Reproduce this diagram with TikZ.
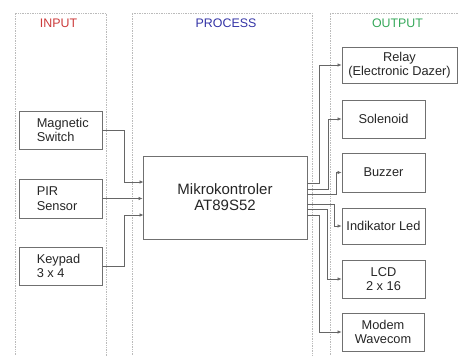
\documentclass[tikz,border=0pt]{standalone}
\usepackage{fontspec}
\setmainfont{Liberation Sans}
\usetikzlibrary{arrows.meta}
\definecolor{inred}{HTML}{CC3B3B}
\definecolor{prblue}{HTML}{3434A6}
\definecolor{outgreen}{HTML}{36A85A}
\definecolor{boxgray}{HTML}{707070}
\definecolor{dotgray}{HTML}{BBBBBB}
\tikzset{
  panel/.style={draw=dotgray, densely dotted, line width=0.7pt},
  title/.style={font=\fontsize{12.4}{14}\selectfont, inner sep=0pt},
  blk/.style={draw=boxgray, line width=0.8pt, fill=white, inner sep=0pt, align=center,
              font=\fontsize{12.8}{14.5}\selectfont, text=black!85},
  btxt/.style={inner sep=0pt, align=left, anchor=west, font=\fontsize{12.8}{14.5}\selectfont, text=black!85},
  conn/.style={draw=black!60, line width=0.7pt},
  arr/.style={conn, -{Latex[length=4pt,width=3.5pt]}}
}
\begin{document}
\begin{tikzpicture}[x=1pt,y=-1pt]
\useasboundingbox (0,0) rectangle (459,356);
% panels
\draw[panel] (15,360) -- (15,13) -- (106,13) -- (106,360);
\draw[panel] (132,360) -- (132,13) -- (312,13) -- (312,360);
\draw[panel] (330,360) -- (330,13) -- (462,13);
\node[title, text=inred] (tin) at (58.5,23) {INPUT};
\node[title, text=prblue] (tpr) at (226,23) {PROCESS};
\node[title, text=outgreen] (tout) at (397.5,23) {OUTPUT};
% input blocks
\node[blk, minimum width=83pt, minimum height=38pt] (ms) at (60.5,130) {};
\node[btxt] (mst) at ([xshift=18pt]ms.west) {Magnetic\\Switch};
\node[blk, minimum width=83pt, minimum height=39pt] (pir) at (60.5,198.5) {};
\node[btxt] (pirt) at ([xshift=18pt]pir.west) {PIR\\Sensor};
\node[blk, minimum width=83pt, minimum height=38pt] (kp) at (60.5,266) {};
\node[btxt] (kpt) at ([xshift=18pt]kp.west) {Keypad\\3 x 4};
% mcu
\node[blk, minimum width=164pt, minimum height=83pt, font=\fontsize{15}{16}\selectfont] (mcu) at (225,197.5) {Mikrokontroler\\AT89S52};
% outputs
\node[blk, minimum width=115pt, minimum height=36pt] (relay) at (399.5,65) {Relay\\(Electronic Dazer)};
\node[blk, minimum width=83pt, minimum height=38pt] (sol) at (383.5,119) {Solenoid};
\node[blk, minimum width=83pt, minimum height=39pt] (buz) at (383.5,172.5) {Buzzer};
\node[blk, minimum width=83pt, minimum height=36pt] (led) at (383.5,226) {Indikator Led};
\node[blk, minimum width=83pt, minimum height=38pt] (lcd) at (383.5,279) {LCD\\2 x 16};
\node[blk, minimum width=82pt, minimum height=38pt] (mod) at (383,332) {Modem\\Wavecom};
% input connectors
\coordinate (i1) at (143.5,182);
\coordinate (i3) at (143.5,215);
\draw[arr] (ms.east) -- (124,130) -- (124,182) -- (i1);
\draw[arr] (pir.east) -- (pir.east -| mcu.west);
\draw[arr] (kp.east) -- (124,266) -- (124,215) -- (i3);
% output connectors
\coordinate (o1) at (307,183);
\coordinate (o2) at (307,189);
\coordinate (o3) at (307,194);
\coordinate (o4) at (307,204);
\coordinate (o5) at (307,209);
\coordinate (o6) at (307,215);
\draw[arr] (o1) -- (319,183) |- (relay.west);
\draw[arr] (o2) -- (328,189) |- (sol.west);
\draw[arr] (o3) -- (336,194) |- (buz.west);
\draw[arr] (o4) -- (334,204) |- (led.west);
\draw[arr] (o5) -- (327,209) |- (lcd.west);
\draw[arr] (o6) -- (319,215) |- (mod.west);
\end{tikzpicture}
\end{document}
